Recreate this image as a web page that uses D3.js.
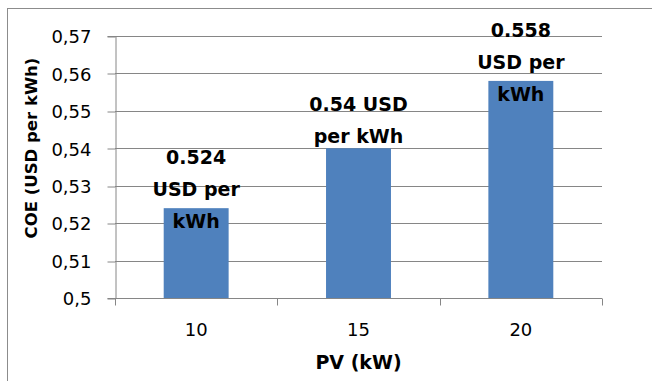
<!DOCTYPE html>
<html>
<head>
<meta charset="utf-8">
<script src="https://cdn.jsdelivr.net/npm/d3@7"></script>
<style>
  html, body { margin: 0; padding: 0; background: #fff; }
  svg { display: block; }
  text { font-family: "DejaVu Sans", sans-serif; fill: #000; }
</style>
</head>
<body>
<svg id="chart" width="652" height="381"></svg>
<script>
// PV capacity (kW) and the resulting cost of energy
const categories = ["10", "15", "20"];
const coeValues = [0.524, 0.54, 0.558];
const labelLines = [
  ["0.524", "USD per", "kWh"],
  ["0.54 USD", "per kWh"],
  ["0.558", "USD per", "kWh"]
];
const yTicks = [0.5, 0.51, 0.52, 0.53, 0.54, 0.55, 0.56, 0.57];
const yTickLabels = ["0,5", "0,51", "0,52", "0,53", "0,54", "0,55", "0,56", "0,57"];
const xTitle = "PV (kW)";
const yTitle = "COE (USD per kWh)";

const svg = d3.select("#chart");
const W = 652, H = 381;
const plot = { left: 115, right: 602, top: 36, bottom: 298 };
const axisColor = "#868686";
const barColor = "#4F81BD";

svg.append("rect").attr("width", W).attr("height", H).attr("fill", "#fff");
// outer chart frame
svg.append("rect")
  .attr("x", 7.5).attr("y", 8.5).attr("width", 700).attr("height", 420)
  .attr("fill", "none").attr("stroke", "#8c8c8c").attr("stroke-width", 1);

const x = d3.scaleBand().domain(categories).range([plot.left, plot.right]).padding(0);
const y = d3.scaleLinear().domain([0.5, 0.57]).range([plot.bottom, plot.top]);

// horizontal gridlines
svg.append("g").selectAll("line").data(yTicks.slice(1)).join("line")
  .attr("x1", plot.left).attr("x2", plot.right)
  .attr("y1", d => Math.round(y(d)) + 0.5).attr("y2", d => Math.round(y(d)) + 0.5)
  .attr("stroke", axisColor).attr("stroke-width", 1);

// y axis
const yAxis = d3.axisLeft(y).tickValues(yTicks)
  .tickFormat((d, i) => yTickLabels[i]).tickSize(8).tickPadding(16);
const gy = svg.append("g").attr("transform", `translate(${plot.left + 0.5},0)`).call(yAxis);
gy.select(".domain").attr("stroke", axisColor);
gy.selectAll(".tick line").attr("stroke", axisColor)
  .attr("transform", d => `translate(0,${Math.round(y(d)) + 0.5 - y(d)})`);
gy.selectAll(".tick text").attr("font-size", 18).attr("font-family", "DejaVu Sans")
  .attr("dy", "0.38em").attr("fill", "#000");

// bars
const barW = x.bandwidth() * 0.4;
svg.append("g").selectAll("rect").data(coeValues).join("rect")
  .attr("x", (d, i) => x(categories[i]) + (x.bandwidth() - barW) / 2)
  .attr("y", d => y(d))
  .attr("width", barW)
  .attr("height", d => y(0.5) - y(d))
  .attr("fill", barColor);

// x axis with ticks on category boundaries
const xBottom = Math.round(y(0.5)) + 0.5;
svg.append("line")
  .attr("x1", plot.left).attr("x2", plot.right)
  .attr("y1", xBottom).attr("y2", xBottom)
  .attr("stroke", axisColor);
const bounds = categories.map(c => x(c)).concat([plot.right]);
svg.append("g").selectAll("line").data(bounds).join("line")
  .attr("x1", d => Math.round(d) + 0.5).attr("x2", d => Math.round(d) + 0.5)
  .attr("y1", xBottom).attr("y2", xBottom + 7)
  .attr("stroke", axisColor);
svg.append("g").selectAll("text").data(categories).join("text")
  .attr("x", d => x(d) + x.bandwidth() / 2)
  .attr("y", 336)
  .attr("text-anchor", "middle")
  .attr("font-size", 18)
  .text(d => d);

// data labels, stacked lines above each bar
const lineGap = 32;
svg.append("g").selectAll("text").data(coeValues).join("text")
  .attr("text-anchor", "middle")
  .attr("font-size", 19)
  .attr("font-weight", "bold")
  .each(function (d, i) {
    const lines = labelLines[i];
    const cx = x(categories[i]) + x.bandwidth() / 2;
    const lastBaseline = y(d) + (lines.length > 2 ? 20 : -5);
    const t = d3.select(this);
    lines.forEach((ln, k) => {
      t.append("tspan")
        .attr("x", cx)
        .attr("y", lastBaseline - (lines.length - 1 - k) * lineGap)
        .text(ln);
    });
  });

// axis titles
svg.append("text")
  .attr("x", (plot.left + plot.right) / 2)
  .attr("y", 369)
  .attr("text-anchor", "middle")
  .attr("font-size", 19)
  .attr("font-weight", "bold")
  .text(xTitle);

svg.append("text")
  .attr("transform", `translate(37,148) rotate(-90)`)
  .attr("text-anchor", "middle")
  .attr("font-size", 16.5)
  .attr("font-weight", "bold")
  .text(yTitle);
</script>
</body>
</html>
